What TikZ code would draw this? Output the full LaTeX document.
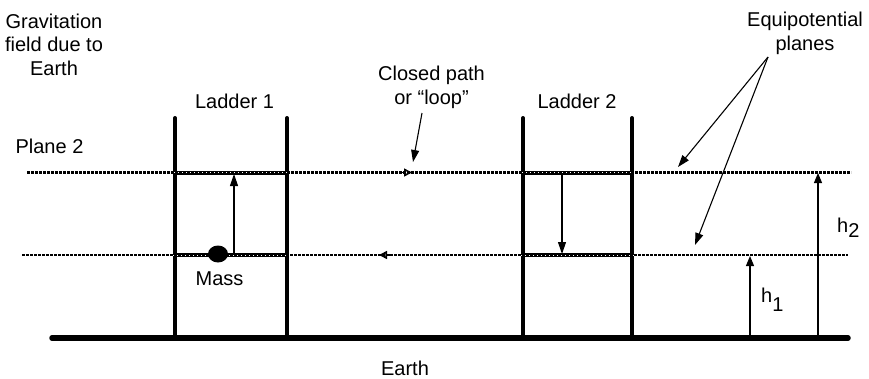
\documentclass[tikz,border=0pt]{standalone}
\usepackage{fontspec}
\setmainfont{Liberation Sans}
\usetikzlibrary{arrows.meta,shapes.geometric}
\begin{document}
\begin{tikzpicture}[x=1pt,y=-1pt,
  lbl/.style={font=\fontsize{20}{23.5}\selectfont, inner sep=0pt, align=center},
  rail/.style={line width=4pt, line cap=round},
  rung/.style={line width=4pt},
  earthline/.style={line width=5.5pt, line cap=round},
  planewhite/.style={white, line width=1pt},
  planedash/.style={line width=2.5pt, dash pattern=on 2.6pt off 1.4pt},
  arr/.style={line width=1.1pt, -{Triangle[length=12pt,width=8pt]}},
  harr/.style={line width=1.1pt, -{Triangle[length=10pt,width=8pt]}},
  openarr/.style={line width=1.6pt, -{Triangle[open,length=8pt,width=8pt]}}]
\useasboundingbox (0,0) rectangle (869,378);

% coordinates
\coordinate (E1) at (52,338);
\coordinate (E2) at (848,338);
\coordinate (P2a) at (27,172.5);
\coordinate (P2b) at (851,172.5);
\coordinate (P1a) at (22,255);
\coordinate (P1b) at (848,255);
\coordinate (L1lt) at (175,118); \coordinate (L1lb) at (175,336);
\coordinate (L1rt) at (287,118); \coordinate (L1rb) at (287,336);
\coordinate (L2lt) at (523,118); \coordinate (L2lb) at (523,336);
\coordinate (L2rt) at (632,118); \coordinate (L2rb) at (632,336);
\coordinate (L1u) at (175,172.5); \coordinate (L1uR) at (287,172.5);
\coordinate (L1d) at (175,255); \coordinate (L1dR) at (287,255);
\coordinate (L2u) at (523,172.5); \coordinate (L2uR) at (632,172.5);
\coordinate (L2d) at (523,255); \coordinate (L2dR) at (632,255);
\coordinate (A1s) at (234,255); \coordinate (A1e) at (234,174);
\coordinate (A2s) at (562,173); \coordinate (A2e) at (562,254);
\coordinate (H1s) at (750,338); \coordinate (H1e) at (750,256);
\coordinate (H2s) at (818,338); \coordinate (H2e) at (818,173);
\coordinate (EqS) at (768,57);
\coordinate (EqT1) at (678,167);
\coordinate (EqT2) at (695,245);
\coordinate (CpS) at (422,113);
\coordinate (CpT) at (413,162);
\coordinate (Ou1) at (401,172.5); \coordinate (Ou2) at (412,172.5);
\coordinate (Ol1) at (390,255); \coordinate (Ol2) at (379,255);

% earth and rails
\draw[earthline] (E1) -- (E2);
\draw[rail] (L1lt) -- (L1lb);
\draw[rail] (L1rt) -- (L1rb);
\draw[rail] (L2lt) -- (L2lb);
\draw[rail] (L2rt) -- (L2rb);
% rungs
\draw[rung] (L1u) -- (L1uR);
\draw[rung] (L1d) -- (L1dR);
\draw[rung] (L2u) -- (L2uR);
\draw[rung] (L2d) -- (L2dR);

% planes
\draw[planewhite] (P2a) -- (P2b);
\draw[planewhite] (P1a) -- (P1b);
\draw[planedash] (P2a) -- (P2b);
\draw[planedash] (P1a) -- (P1b);

% open arrowheads on the loop
\draw[openarr] (Ou1) -- (Ou2);
\draw[openarr] (Ol1) -- (Ol2);

% mass
\node[fill=black, ellipse, minimum width=20pt, minimum height=17pt, inner sep=0pt] (mass) at (218,254) {};

% arrows
\draw[arr] (A1s) -- (A1e);
\draw[arr] (A2s) -- (A2e);
\draw[harr] (H1s) -- (H1e);
\draw[harr] (H2s) -- (H2e);
\draw[arr] (EqS) -- (EqT1);
\draw[arr] (EqS) -- (EqT2);
\draw[arr] (CpS) -- (CpT);

% labels
\node[lbl, anchor=base] (grav) at (54,75) {Gravitation\\field due to\\Earth};
\node[lbl, anchor=base] (plane2) at (49.5,153) {Plane 2};
\node[lbl, anchor=base] (lad1) at (234.5,108) {Ladder 1};
\node[lbl, anchor=base] (lad2) at (577,108) {Ladder 2};
\node[lbl, anchor=base] (closed) at (431.5,104) {Closed path\\or “loop”};
\node[lbl, anchor=base] (equi) at (805,50) {Equipotential\\planes};
\node[lbl, anchor=base] (masslbl) at (219.5,285) {Mass};
\node[lbl, anchor=base] (earth) at (405,375) {Earth};
\node[lbl, anchor=base west] (h1) at (761,302) {h\raisebox{-9pt}{1}};
\node[lbl, anchor=base west] (h2) at (837,232) {h\raisebox{-5pt}{2}};
\end{tikzpicture}
\end{document}
